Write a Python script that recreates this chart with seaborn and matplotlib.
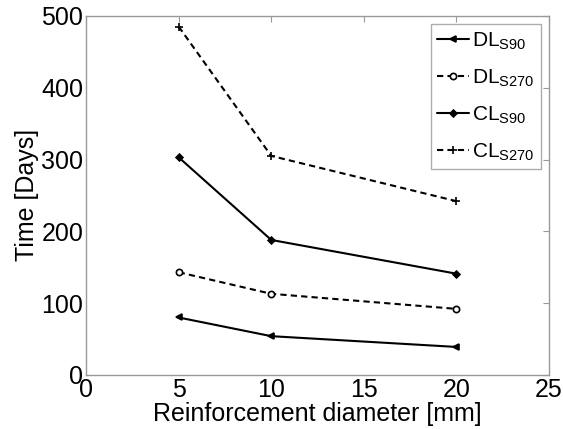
import pandas as pd
import seaborn as sns
import matplotlib
matplotlib.use("Agg")
import matplotlib.pyplot as plt

# data
diameter = [5, 10, 20]
dl_s90 = [80, 54, 39]
dl_s270 = [143, 113, 92]
cl_s90 = [303, 188, 141]
cl_s270 = [485, 305, 242]
series_names = [r'DL$_{\mathrm{S90}}$', r'DL$_{\mathrm{S270}}$',
                r'CL$_{\mathrm{S90}}$', r'CL$_{\mathrm{S270}}$']
x_ticks = [0, 5, 10, 15, 20, 25]
y_ticks = [0, 100, 200, 300, 400, 500]

rows = []
for name, vals in zip(series_names, [dl_s90, dl_s270, cl_s90, cl_s270]):
    for d, v in zip(diameter, vals):
        rows.append({'Diameter': d, 'Time': v, 'Series': name})
data = pd.DataFrame(rows)

sns.set_theme(style="white")
plt.rcParams['font.family'] = ['Liberation Sans', 'DejaVu Sans']
plt.rcParams['mathtext.fontset'] = 'custom'
plt.rcParams['mathtext.rm'] = 'Liberation Sans'
plt.rcParams['mathtext.it'] = 'Liberation Sans'
plt.rcParams['text.color'] = 'black'
plt.rcParams['axes.labelcolor'] = 'black'
plt.rcParams['xtick.color'] = 'black'
plt.rcParams['ytick.color'] = 'black'

fig, ax = plt.subplots(figsize=(5.63, 4.29), dpi=100)
fig.subplots_adjust(left=0.153, right=0.975, top=0.963, bottom=0.126)

markers = {series_names[0]: '<', series_names[1]: 'o',
           series_names[2]: 'D', series_names[3]: '+'}
dashes = {series_names[0]: '', series_names[1]: (3, 2),
          series_names[2]: '', series_names[3]: (3, 2)}
sizes = {series_names[0]: 5, series_names[1]: 4.5,
         series_names[2]: 3.5, series_names[3]: 5.5}

for name in series_names:
    sub = data[data['Series'] == name]
    sns.lineplot(data=sub, x='Diameter', y='Time', ax=ax, color='black',
                 marker=markers[name], markersize=sizes[name],
                 markerfacecolor='white' if name == series_names[1] else 'black',
                 markeredgecolor='black', markeredgewidth=1.2,
                 linewidth=1.5, label=name)
    line = ax.lines[-1]
    if dashes[name]:
        line.set_dashes(dashes[name])

ax.set_xlim(0, 25)
ax.set_ylim(0, 500)
ax.set_xticks(x_ticks)
ax.set_yticks(y_ticks)
ax.tick_params(direction='in', length=4, color='#999999', labelcolor='black',
               labelsize=18, top=True, right=True, pad=2, width=0.8)
for sp in ax.spines.values():
    sp.set_color('#999999')
    sp.set_linewidth(1)
ax.set_xlabel('Reinforcement diameter [mm]', fontsize=18, labelpad=0, color='black')
ax.set_ylabel('Time [Days]', fontsize=18, labelpad=2, color='black')

# legend: rebuild handles with dash styles
handles, labels = ax.get_legend_handles_labels()
for h, lab in zip(handles, labels):
    if dashes.get(lab):
        h.set_dashes(dashes[lab])
leg = ax.legend(handles, labels, loc='upper right', fontsize=15, frameon=True,
                fancybox=False, edgecolor='#999999', handlelength=1.5,
                handletextpad=0.15, borderpad=0.3, labelspacing=0.75,
                borderaxespad=0.4)
leg.get_frame().set_linewidth(1)
for t in leg.get_texts():
    t.set_color('black')

fig.savefig('out.png', dpi=100)
